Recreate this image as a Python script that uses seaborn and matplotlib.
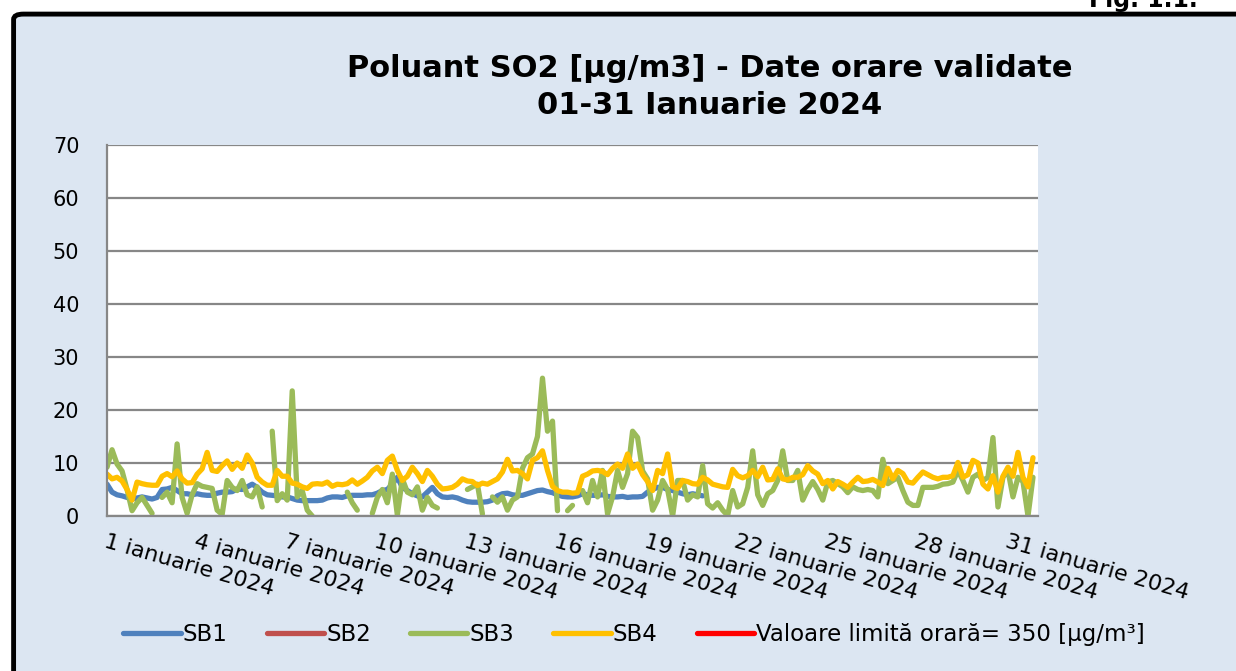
import pandas as pd
import numpy as np
import matplotlib
matplotlib.use('Agg')
import matplotlib.pyplot as plt
from matplotlib.patches import FancyBboxPatch
import seaborn as sns

nan = np.nan

# 4-hour readings (00, 04, 08, 12, 16, 20 h), one row per day, 1-31 January 2024
sb1 = [
    6.0, 4.5, 4.0, 3.8, 3.5, 3.2,
    3.4, 3.6, 3.4, 3.2, 3.5, 5.0,
    5.1, 5.4, 4.8, 4.2, 4.2, 4.0,
    4.2, 4.0, 3.9, 3.9, 4.3, 4.5,
    4.5, 4.6, 5.1, 5.0, 5.5, 6.0,
    5.4, 4.5, 4.0, 3.9, 3.8, 3.6,
    3.6, 3.3, 3.0, 2.9, 2.9, 2.9,
    2.9, 3.0, 3.4, 3.6, 3.6, 3.5,
    3.8, 3.9, 3.9, 3.9, 4.0, 4.0,
    4.3, 4.8, 5.0, 6.0, 7.3, 5.4,
    4.8, 4.2, 3.8, 3.6, 4.5, 5.4,
    4.2, 3.6, 3.5, 3.6, 3.4, 3.0,
    2.7, 2.6, 2.6, 2.6, 2.7, 3.0,
    3.8, 4.2, 4.3, 4.0, 3.9, 3.9,
    4.2, 4.5, 4.8, 4.9, 4.6, 4.4,
    4.0, 3.7, 3.6, 3.6, 3.8, 4.2,
    4.0, 3.9, 3.9, 4.0, 3.7, 3.6,
    3.6, 3.7, 3.5, 3.6, 3.6, 3.7,
    4.5, 5.0, 5.4, 5.4, 5.0, 4.8,
    4.5, 4.2, 4.0, 4.2, 4.0, 3.8,
    nan, nan, nan, nan, nan, nan,
    nan, nan, nan, nan, nan, nan,
    nan, nan, nan, nan, nan, nan,
    nan, nan, nan, nan, nan, nan,
    nan, nan, nan, nan, nan, nan,
    nan, nan, nan, nan, nan, nan,
    nan, nan, nan, nan, nan, nan,
    nan, nan, nan, nan, nan, nan,
    nan, nan, nan, nan, nan, nan,
    nan, nan, nan, nan, nan, nan,
    nan, nan, nan, nan, nan, nan,
]

sb2 = []  # no validated data

sb3 = [
    9.2, 12.5, 9.8, 8.5, 5.0, 1.0,
    2.5, 3.5, 2.0, 0.5, nan, 3.5,
    4.5, 2.5, 13.6, 3.5, 0.5, 4.0,
    6.1, 5.6, 5.4, 5.2, 1.1, 0.3,
    6.7, 5.4, 4.8, 6.7, 4.0, 3.6,
    5.5, 1.7, nan, 16.0, 2.9, 4.2,
    3.0, 23.6, 3.6, 4.8, 1.1, 0.0,
    nan, nan, nan, nan, nan, nan,
    4.5, 2.5, 1.1, nan, nan, 0.5,
    3.5, 5.0, 2.5, 7.9, 0.2, 7.0,
    4.5, 4.0, 5.5, 1.1, 3.5, 2.0,
    1.5, nan, nan, nan, nan, nan,
    5.0, 5.5, 6.0, 0.4, nan, 3.6,
    2.6, 3.6, 1.1, 3.0, 3.6, 9.0,
    11.0, 11.7, 15.0, 26.0, 16.0, 17.9,
    1.0, nan, 1.0, 2.0, nan, 4.8,
    2.5, 6.7, 3.6, 8.6, 0.4, 3.6,
    8.6, 5.4, 8.0, 16.0, 14.8, 8.5,
    7.0, 1.1, 3.0, 6.7, 5.0, 0.0,
    6.7, 6.7, 3.0, 4.0, 3.6, 9.5,
    2.3, 1.5, 2.5, 1.1, 0.1, 4.8,
    1.7, 2.3, 5.4, 12.3, 4.0, 2.0,
    4.2, 4.8, 6.7, 12.3, 6.7, 6.7,
    8.6, 3.0, 5.0, 6.5, 5.0, 3.0,
    6.4, 6.7, 6.1, 5.5, 4.4, 5.5,
    5.0, 4.8, 5.0, 4.8, 3.6, 10.7,
    6.1, 6.7, 7.3, 4.8, 2.6, 2.0,
    2.0, 5.4, 5.4, 5.4, 5.6, 6.0,
    6.1, 6.4, 8.6, 6.7, 4.5, 7.3,
    7.9, 6.7, 7.3, 14.8, 1.7, 7.3,
    8.6, 3.6, 7.3, 6.5, 0.0, 7.3,
]

sb4 = [
    7.9, 7.0, 7.3, 6.6, 5.0, 3.0,
    6.4, 6.1, 5.9, 5.8, 5.8, 7.5,
    8.0, 7.4, 8.5, 7.0, 6.2, 6.3,
    7.9, 8.9, 12.0, 8.6, 8.4, 9.5,
    10.4, 8.8, 10.0, 9.0, 11.5, 10.0,
    7.3, 6.4, 5.8, 5.8, 8.6, 7.5,
    7.5, 6.2, 6.0, 5.5, 5.2, 6.0,
    6.1, 6.0, 6.4, 5.6, 6.0, 5.9,
    6.1, 6.8, 6.0, 6.6, 7.3, 8.5,
    9.2, 8.0, 10.5, 11.3, 8.6, 6.7,
    7.5, 9.2, 8.0, 6.5, 8.6, 7.5,
    6.0, 5.1, 5.2, 5.4, 6.0, 7.0,
    6.6, 6.5, 5.75, 6.2, 6.0, 6.5,
    7.0, 8.3, 10.7, 8.5, 8.6, 8.0,
    7.0, 10.5, 11.0, 12.3, 8.6, 5.6,
    4.8, 4.5, 4.5, 4.3, 4.4, 7.5,
    7.9, 8.5, 8.6, 8.4, 7.8, 9.0,
    9.8, 9.0, 11.7, 9.0, 9.8, 7.8,
    6.5, 4.8, 8.6, 8.0, 11.7, 5.5,
    5.2, 6.7, 6.5, 6.1, 6.0, 7.3,
    6.8, 6.0, 5.75, 5.5, 5.4, 8.8,
    7.6, 7.2, 7.6, 8.6, 7.4, 9.2,
    6.8, 6.9, 8.9, 7.0, 6.8, 7.3,
    7.3, 7.8, 9.5, 8.5, 7.9, 6.1,
    6.7, 5.1, 6.5, 6.0, 5.4, 6.4,
    7.3, 6.5, 6.6, 6.9, 6.4, 5.75,
    9.0, 7.0, 8.6, 8.0, 6.4, 6.2,
    7.3, 8.3, 7.8, 7.3, 7.0, 7.3,
    7.3, 7.6, 10.1, 7.3, 7.8, 10.5,
    10.0, 6.0, 5.1, 7.6, 4.5, 7.5,
    9.2, 7.5, 12.0, 7.3, 5.5, 11.0,
]

limit_value = 350
tick_days = [1, 4, 7, 10, 13, 16, 19, 22, 25, 28, 31]
tick_labels = [f'{d} ianuarie 2024' for d in tick_days]

times = pd.date_range('2024-01-01', periods=len(sb4), freq='4h')
df = pd.DataFrame({'time': times, 'SB1': sb1, 'SB3': sb3, 'SB4': sb4})

colors = {'SB1': '#4F81BD', 'SB2': '#C0504D', 'SB3': '#9BBB59', 'SB4': '#FFC000'}
bg = '#DCE6F2'

sns.set_style('white')
plt.rcParams['font.family'] = ['DejaVu Sans']
plt.rcParams['text.color'] = 'black'
plt.rcParams['xtick.color'] = 'black'
plt.rcParams['ytick.color'] = 'black'

fig = plt.figure(figsize=(12.36, 6.71), dpi=100, facecolor='white')
frame = FancyBboxPatch((0.011, -0.05), 1.05, 1.029, transform=fig.transFigure,
                       boxstyle='round,pad=0,rounding_size=0.008',
                       facecolor=bg, edgecolor='black', linewidth=3.5, zorder=-1)
fig.patches.append(frame)
fig.text(0.969, 1.0, 'Fig. 1.1.', ha='right', va='center', fontsize=17, weight='bold')

ax = fig.add_axes([0.0866, 0.231, 0.7532, 0.553])
ax.set_facecolor('white')

lw = 3.8


def draw(col):
    # break the line where hours are missing (gaps in validated data)
    d = df[['time', col]].copy()
    d['seg'] = d[col].isna().cumsum()
    d = d.dropna()
    sns.lineplot(data=d, x='time', y=col, units='seg', estimator=None, ax=ax,
                 color=colors[col], lw=lw, label=col, legend=False)


draw('SB1')
ax.plot(sb2, sb2, color=colors['SB2'], lw=lw, label='SB2')
draw('SB3')
draw('SB4')
ax.axhline(limit_value, color='#FF0000', lw=lw, label='Valoare limită orară= 350 [µg/m³]')

ax.set_ylim(0, 70)
ax.set_yticks(range(0, 71, 10))
ax.set_xlim(pd.Timestamp('2024-01-01'), pd.Timestamp('2024-02-01'))
ax.set_xticks([pd.Timestamp(2024, 1, d) for d in tick_days])
ax.set_xticklabels(tick_labels, rotation=-16, ha='left', va='top', rotation_mode='anchor')
ax.tick_params(axis='y', length=0, pad=20, labelsize=15)
ax.tick_params(axis='x', length=0, pad=11, labelsize=16)
ax.set_xlabel('')
ax.set_ylabel('')
ax.grid(axis='y', color='#878787', lw=1.6)
ax.set_axisbelow(True)
for s in ['top', 'right']:
    ax.spines[s].set_visible(False)
for s in ['left', 'bottom']:
    ax.spines[s].set_color('#878787')
    ax.spines[s].set_linewidth(1.6)

fig.text(0.574, 0.898, 'Poluant SO2 [µg/m3] - Date orare validate',
         ha='center', va='center', fontsize=22, weight='bold')
fig.text(0.574, 0.843, '01-31 Ianuarie 2024',
         ha='center', va='center', fontsize=22, weight='bold')

handles, labels = ax.get_legend_handles_labels()
uniq = dict(zip(labels, handles))
fig.legend(list(uniq.values()), list(uniq.keys()), loc='center',
           bbox_to_anchor=(0.513, 0.055), ncol=5, frameon=False, fontsize=16.5,
           handlelength=2.5, handletextpad=0.1, columnspacing=1.7)

fig.savefig('out.png', dpi=100, facecolor='white')
